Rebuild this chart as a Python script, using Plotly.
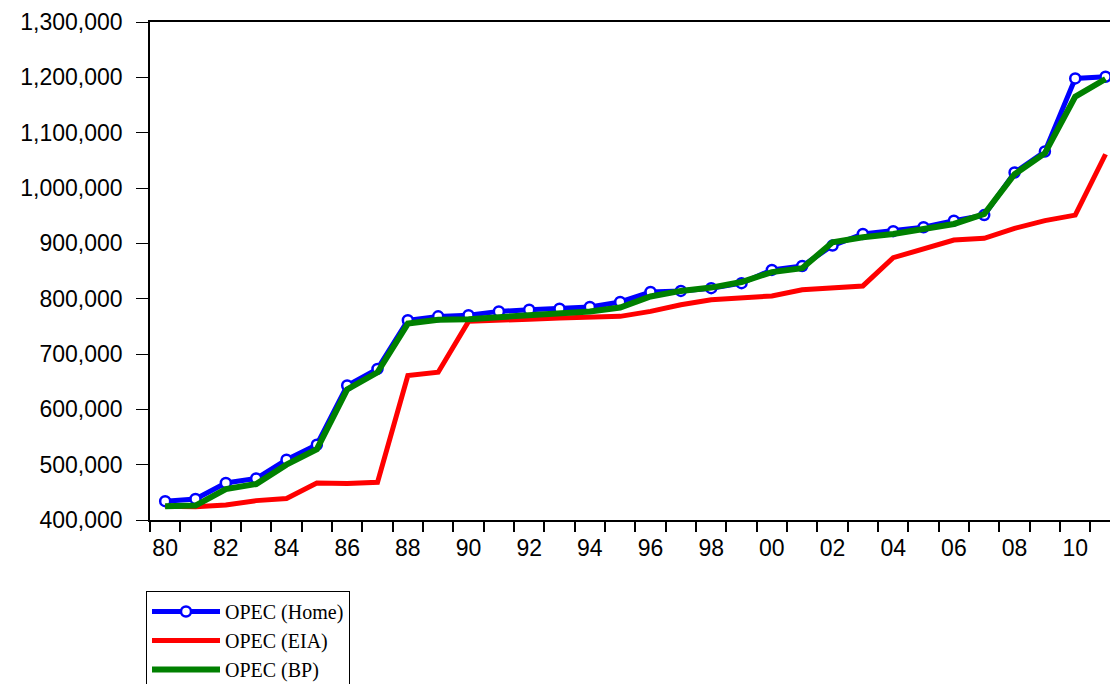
import plotly.graph_objects as go

years = list(range(1980, 2012))
opec_home = [434000, 438000, 467000, 475000, 509000, 536000, 643000, 673000,
             761000, 768000, 770000, 777000, 780000, 782000, 785000, 794000,
             812000, 814000, 819000, 828000, 852000, 859000, 896000, 917000,
             922000, 929000, 941000, 951000, 1028000, 1066000, 1198000, 1201000]
opec_eia = [425000, 424000, 427000, 435000, 439000, 467000, 466000, 468000,
            661000, 667000, 759000, 762000, 763000, 765000, 767000, 768000,
            777000, 789000, 798000, 801000, 805000, 816000, 820000, 823000,
            874000, 890000, 906000, 909000, 927000, 941000, 951000, 1061000]
opec_bp = [425000, 426000, 456000, 465000, 500000, 528000, 636000, 667000,
           755000, 762000, 763000, 767000, 770000, 774000, 777000, 784000,
           804000, 814000, 820000, 830000, 848000, 855000, 902000, 911000,
           917000, 926000, 935000, 953000, 1025000, 1063000, 1165000, 1197000]

x_tick_years = list(range(1980, 2012, 2))
x_tick_text = [f"{y % 100:02d}" for y in x_tick_years]
y_tick_vals = list(range(400000, 1300001, 100000))
y_tick_text = [f"{v:,}" for v in y_tick_vals]

fig = go.Figure()
fig.add_trace(go.Scatter(
    x=years, y=opec_home, name="OPEC (Home)", mode="lines+markers",
    line=dict(color="#0000FF", width=5),
    marker=dict(symbol="circle", size=10, color="white",
                line=dict(color="#0000FF", width=2.5)),
))
fig.add_trace(go.Scatter(
    x=years, y=opec_eia, name="OPEC (EIA)", mode="lines",
    line=dict(color="#FF0000", width=5),
))
fig.add_trace(go.Scatter(
    x=years, y=opec_bp, name="OPEC (BP)", mode="lines",
    line=dict(color="#008000", width=6),
))

fig.update_layout(
    width=1118, height=684,
    margin=dict(l=142, r=8, t=14, b=172, autoexpand=False),
    paper_bgcolor="white", plot_bgcolor="white",
    font=dict(family="Liberation Sans, Arial, sans-serif", size=23, color="black"),
    showlegend=True,
    legend=dict(
        xref="paper", yref="paper",
        x=(146 - 150) / 968, y=(520 - 591) / 498, xanchor="left", yanchor="top",
        bordercolor="black", borderwidth=1, bgcolor="white",
        font=dict(family="Liberation Serif, Times New Roman, serif", size=20, color="black"),
        itemwidth=68, tracegroupgap=0,
    ),
)
fig.update_xaxes(
    range=[1979.5, 2011.41],
    tickvals=x_tick_years, ticktext=x_tick_text,
    ticks="outside", ticklen=7, tickcolor="rgba(0,0,0,0)",
    minor=dict(ticks="outside", tick0=1979.5, dtick=1, ticklen=10,
               tickcolor="black", tickwidth=1.5),
    showline=True, linecolor="black", linewidth=1.5, mirror=True,
    showgrid=False, zeroline=False,
    tickfont=dict(size=23),
)
fig.update_yaxes(
    range=[400000, 1300000],
    tickvals=y_tick_vals, ticktext=y_tick_text,
    ticks="outside", ticklen=12, tickcolor="black", tickwidth=1,
    ticklabelstandoff=9,
    showline=True, linecolor="black", linewidth=1.5, mirror=False,
    showgrid=False, zeroline=False,
    tickfont=dict(size=23),
)

fig.write_html("out.html")
